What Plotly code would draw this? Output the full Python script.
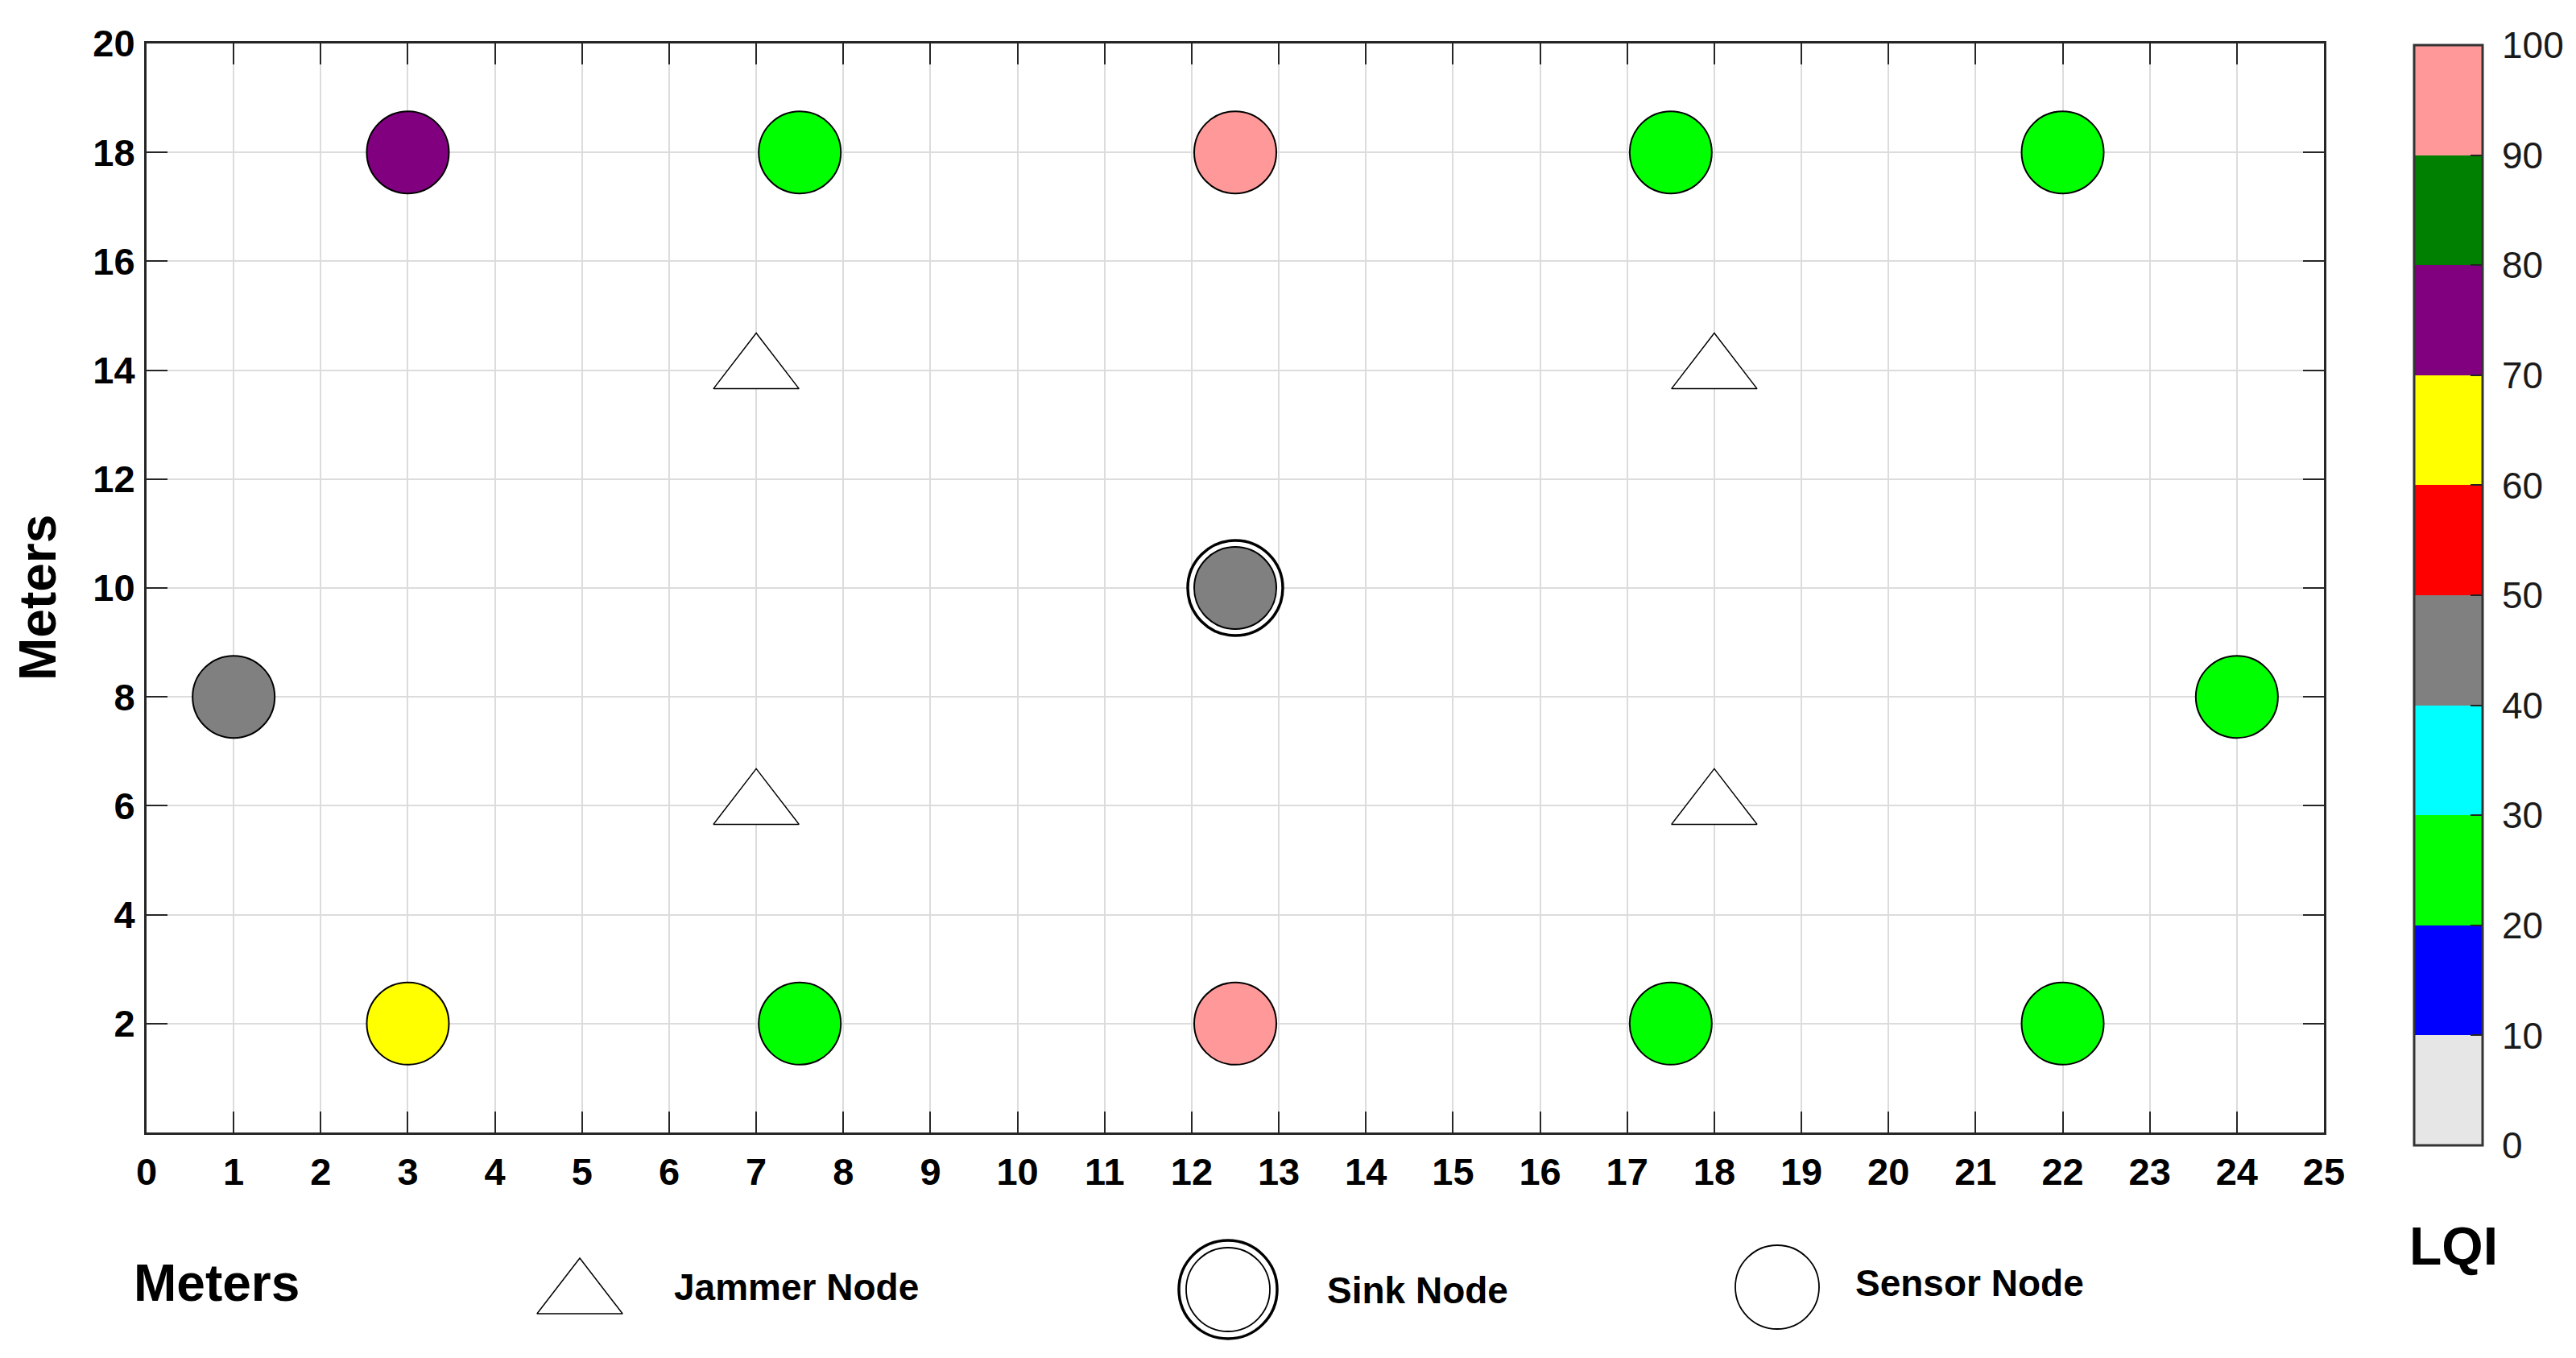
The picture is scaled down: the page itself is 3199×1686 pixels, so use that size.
import plotly.graph_objects as go

# ---------------- data ----------------
sensor_x = [3, 7.5, 12.5, 17.5, 22, 1, 24, 3, 7.5, 12.5, 17.5, 22]
sensor_y = [18, 18, 18, 18, 18, 8, 8, 2, 2, 2, 2, 2]
sensor_lqi = [75, 25, 95, 25, 25, 45, 25, 65, 25, 95, 25, 25]

sink_x = [12.5]
sink_y = [10]
sink_lqi = [45]

jammer_x = [7, 18, 7, 18]
jammer_y = [14, 14, 6, 6]

x_ticks = list(range(0, 26))
y_ticks = list(range(2, 21, 2))
lqi_ticks = list(range(0, 101, 10))
bin_colors = ["#E6E6E6", "#0000FF", "#00FF00", "#00FFFF", "#808080",
              "#FF0000", "#FFFF00", "#800080", "#008000", "#FF9999"]

legend_labels = ["Jammer Node", "Sink Node", "Sensor Node"]

# ---------------- layout helpers ----------------
W, H = 3199, 1686
def fx(px):
    return px / W
def fy(py):
    return 1 - py / H

colorscale = []
for i, c in enumerate(bin_colors):
    colorscale.append([i / len(bin_colors), c])
    colorscale.append([(i + 1) / len(bin_colors), c])

FONT = "Liberation Sans, Arial, sans-serif"

fig = go.Figure()

# jammer nodes
fig.add_trace(go.Scatter(
    x=jammer_x, y=jammer_y, mode="markers", showlegend=False,
    marker=dict(symbol="triangle-up", size=92, color="white",
                line=dict(color="black", width=1.5)),
    hoverinfo="x+y"))

# sensor nodes
fig.add_trace(go.Scatter(
    x=sensor_x, y=sensor_y, mode="markers", showlegend=False,
    marker=dict(symbol="circle", size=102, color=sensor_lqi, coloraxis="coloraxis",
                line=dict(color="black", width=2)),
    hoverinfo="x+y"))

# sink node (outer ring + inner coloured disc)
fig.add_trace(go.Scatter(
    x=sink_x, y=sink_y, mode="markers", showlegend=False,
    marker=dict(symbol="circle", size=118, color="white",
                line=dict(color="black", width=3.5)),
    hoverinfo="skip"))
fig.add_trace(go.Scatter(
    x=sink_x, y=sink_y, mode="markers", showlegend=False,
    marker=dict(symbol="circle", size=102, color=sink_lqi, coloraxis="coloraxis",
                line=dict(color="black", width=2)),
    hoverinfo="x+y"))

# ---------------- custom legend (overlay axis covering whole figure) ----------------
leg_sym_x = [fx(720), fx(1525), fx(2207)]
leg_sym_y = [fy(1608), fy(1601), fy(1598)]
fig.add_trace(go.Scatter(
    x=[leg_sym_x[0]], y=[leg_sym_y[0]], xaxis="x2", yaxis="y2", mode="markers",
    showlegend=False, hoverinfo="skip",
    marker=dict(symbol="triangle-up", size=92, color="white",
                line=dict(color="black", width=1.5))))
fig.add_trace(go.Scatter(
    x=[leg_sym_x[1]], y=[leg_sym_y[1]], xaxis="x2", yaxis="y2", mode="markers",
    showlegend=False, hoverinfo="skip",
    marker=dict(symbol="circle", size=122, color="white",
                line=dict(color="black", width=3.5))))
fig.add_trace(go.Scatter(
    x=[leg_sym_x[1]], y=[leg_sym_y[1]], xaxis="x2", yaxis="y2", mode="markers",
    showlegend=False, hoverinfo="skip",
    marker=dict(symbol="circle", size=104, color="white",
                line=dict(color="black", width=1.8))))
fig.add_trace(go.Scatter(
    x=[leg_sym_x[2]], y=[leg_sym_y[2]], xaxis="x2", yaxis="y2", mode="markers",
    showlegend=False, hoverinfo="skip",
    marker=dict(symbol="circle", size=104, color="white",
                line=dict(color="black", width=1.8))))

axis_common = dict(
    showline=True, linecolor="#262626", linewidth=3, mirror="ticks",
    ticks="inside", ticklen=26, tickwidth=2, tickcolor="#262626",
    showgrid=True, gridcolor="#DCDCDC", gridwidth=2,
    zeroline=False, automargin=False,
    tickfont=dict(family=FONT, size=47, color="black", weight="bold"),
)

plot_l, plot_r, plot_t, plot_b = 182, 2886, 54, 1406

fig.update_layout(
    width=W, height=H,
    margin=dict(l=0, r=0, t=0, b=0, autoexpand=False),
    paper_bgcolor="white", plot_bgcolor="rgba(0,0,0,0)",
    xaxis=dict(domain=[fx(plot_l), fx(plot_r)], range=[x_ticks[0], x_ticks[-1]],
               tickmode="array", tickvals=x_ticks, ticktext=[str(v) for v in x_ticks],
               ticklabelstandoff=6, **axis_common),
    yaxis=dict(domain=[fy(plot_b), fy(plot_t)], range=[0, 20],
               tickmode="array", tickvals=y_ticks, ticktext=[str(v) for v in y_ticks],
               ticklabelstandoff=2, **axis_common),
    xaxis2=dict(domain=[0, 1], range=[0, 1], visible=False, anchor="y2", fixedrange=True),
    yaxis2=dict(domain=[0, 1], range=[0, 1], visible=False, anchor="x2", fixedrange=True),
    coloraxis=dict(
        colorscale=colorscale, cmin=lqi_ticks[0], cmax=lqi_ticks[-1],
        colorbar=dict(
            x=fx(2998), xanchor="left", xref="paper",
            y=fy(56), yanchor="top", yref="paper",
            len=(1422 - 56) / H, lenmode="fraction",
            thickness=85, thicknessmode="pixels",
            xpad=0, ypad=0,
            outlinewidth=3, outlinecolor="#333333",
            tickmode="array", tickvals=lqi_ticks,
            ticktext=["\u00a0" + str(v) for v in lqi_ticks],
            ticks="inside", ticklen=16, tickwidth=2, tickcolor="#222222",
            tickfont=dict(family=FONT, size=46, color="#1a1a1a"),
        ),
    ),
    showlegend=False,
)

ann_font_big = dict(family=FONT, size=64, color="black", weight="bold")
ann_font_leg = dict(family=FONT, size=46, color="black", weight="bold")

fig.add_annotation(text="Meters", x=fx(47), y=fy(742), xref="paper", yref="paper",
                   textangle=-90, showarrow=False, font=ann_font_big,
                   xanchor="center", yanchor="middle")
fig.add_annotation(text="Meters", x=fx(269), y=fy(1593), xref="paper", yref="paper",
                   showarrow=False, font=ann_font_big, xanchor="center", yanchor="middle")
fig.add_annotation(text="LQI", x=fx(3047), y=fy(1547), xref="paper", yref="paper",
                   showarrow=False, font=dict(family=FONT, size=66, color="black", weight="bold"),
                   xanchor="center", yanchor="middle")

leg_text_x = [fx(989), fx(1760), fx(2446)]
leg_text_y = [fy(1598), fy(1602), fy(1593)]
for t, lx, ly in zip(legend_labels, leg_text_x, leg_text_y):
    fig.add_annotation(text=t, x=lx, y=ly, xref="paper", yref="paper",
                       showarrow=False, font=ann_font_leg,
                       xanchor="center", yanchor="middle")

fig.write_html("out.html", config={"displayModeBar": False},
               post_script="document.body.style.margin='0';document.body.style.overflow='hidden';")
